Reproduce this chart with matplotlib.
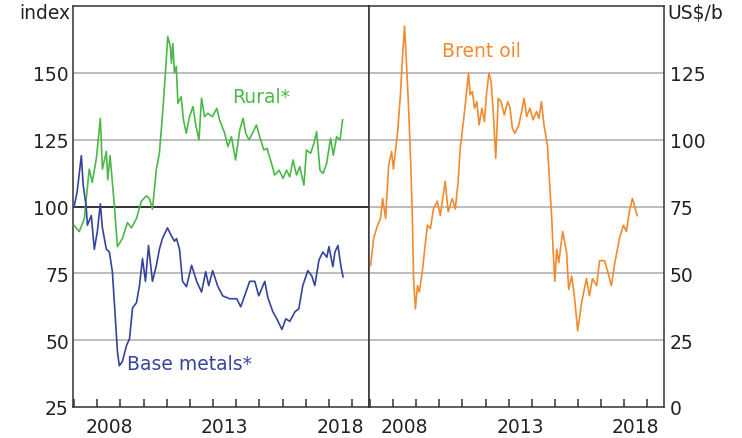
import matplotlib.pyplot as plt

plt.rcParams['font.family'] = ['DejaVu Sans']

# Rural* index (left panel)
rural_t = [2007.00, 2007.22, 2007.44, 2007.65, 2007.78, 2007.96, 2008.13, 2008.22, 2008.39, 2008.45,
           2008.55, 2008.74, 2008.87, 2009.08, 2009.30, 2009.47, 2009.69, 2009.90, 2010.12, 2010.25,
           2010.38, 2010.55, 2010.68, 2010.83, 2010.94, 2011.04, 2011.15, 2011.20, 2011.26, 2011.33,
           2011.41, 2011.48, 2011.62, 2011.72, 2011.84, 2011.98, 2012.13, 2012.24, 2012.39, 2012.50,
           2012.63, 2012.77, 2012.97, 2013.16, 2013.28, 2013.50, 2013.64, 2013.79, 2013.97, 2014.15,
           2014.29, 2014.41, 2014.55, 2014.70, 2014.87, 2015.01, 2015.19, 2015.33, 2015.52, 2015.66,
           2015.85, 2016.02, 2016.17, 2016.31, 2016.45, 2016.60, 2016.74, 2016.92, 2017.03, 2017.21,
           2017.35, 2017.47, 2017.61, 2017.75, 2017.90, 2018.07, 2018.19, 2018.33, 2018.48, 2018.59]
rural_v = [92.9, 90.6, 95.5, 114, 109, 118, 133, 114, 120.6, 110,
           119, 100, 85, 88, 94, 92, 95.5, 102, 104, 103,
           99, 114, 119.9, 136.1, 149.9, 163.6, 159.9, 153.6, 161, 150,
           152.4, 138.6, 141.1, 132.4, 127.4, 133.6, 137.4, 131.1, 124.9, 140.5,
           133.6, 134.9, 133.6, 136.75, 132.4, 127.4, 122.4, 126.1, 117.4, 128.6,
           133, 127.4, 124.9, 127.4, 130.5, 126.1, 121.1, 121.75, 116.1, 111.75,
           113.6, 110.5, 113.6, 111.1, 117.4, 111.75, 114.9, 108, 121.1, 119.9,
           123.6, 128, 113.6, 112.4, 116.1, 125.5, 119.2, 126.1, 124.9, 132.4]

# Base metals* index (left panel)
metals_t = [2007.00, 2007.13, 2007.31, 2007.39, 2007.52, 2007.57, 2007.74, 2007.87, 2008.00, 2008.13,
            2008.22, 2008.39, 2008.52, 2008.65, 2008.78, 2008.87, 2008.95, 2009.08, 2009.26, 2009.39,
            2009.52, 2009.69, 2009.82, 2009.95, 2010.08, 2010.21, 2010.38, 2010.55, 2010.68, 2010.81,
            2011.03, 2011.20, 2011.33, 2011.42, 2011.55, 2011.68, 2011.85, 2012.07, 2012.29, 2012.50,
            2012.68, 2012.81, 2012.98, 2013.19, 2013.41, 2013.71, 2014.02, 2014.19, 2014.36, 2014.58,
            2014.80, 2014.97, 2015.23, 2015.36, 2015.58, 2015.75, 2015.97, 2016.14, 2016.31, 2016.53,
            2016.70, 2016.87, 2017.09, 2017.26, 2017.39, 2017.57, 2017.74, 2017.91, 2018.00, 2018.17,
            2018.26, 2018.39, 2018.52, 2018.61]
metals_v = [100, 105.6, 119, 108, 100, 93, 96.6, 84, 90.6, 101,
            92, 84, 83, 75.6, 58, 45.6, 40.4, 42, 48, 50.5,
            62, 64, 70.4, 80.5, 72, 85.4, 72, 78, 84, 88,
            92, 89, 87, 88, 84, 72, 70, 78, 72, 68,
            75.6, 70.4, 76, 70.4, 66.6, 65.5, 65.5, 62.5, 66.6, 72,
            72, 66.6, 72, 66, 60.6, 58, 54, 58, 57, 60.6,
            61.75, 70.4, 76, 74, 70.4, 80, 83, 81, 85, 77.5,
            83, 85.4, 77.5, 73.7]

# Brent oil, US$/b (right panel)
brent_t = [2007.02, 2007.15, 2007.32, 2007.45, 2007.54, 2007.67, 2007.80, 2007.93, 2008.01, 2008.19,
           2008.31, 2008.40, 2008.49, 2008.57, 2008.66, 2008.75, 2008.83, 2008.88, 2008.96, 2009.05,
           2009.13, 2009.26, 2009.35, 2009.48, 2009.61, 2009.74, 2009.91, 2010.04, 2010.25, 2010.38,
           2010.56, 2010.69, 2010.81, 2010.90, 2011.04, 2011.15, 2011.26, 2011.33, 2011.43, 2011.52,
           2011.62, 2011.72, 2011.84, 2011.95, 2012.05, 2012.15, 2012.24, 2012.34, 2012.44, 2012.55,
           2012.67, 2012.81, 2012.96, 2013.06, 2013.16, 2013.27, 2013.44, 2013.56, 2013.67, 2013.78,
           2013.92, 2014.06, 2014.21, 2014.31, 2014.42, 2014.53, 2014.68, 2014.78, 2014.87, 2014.93,
           2015.00, 2015.08, 2015.17, 2015.34, 2015.51, 2015.60, 2015.73, 2015.86, 2015.99, 2016.16,
           2016.37, 2016.50, 2016.63, 2016.81, 2016.94, 2017.15, 2017.28, 2017.45, 2017.58, 2017.80,
           2017.97, 2018.10, 2018.23, 2018.36, 2018.45, 2018.57]
brent_v = [53, 63, 68, 70.5, 78, 70.5, 90.4, 95.6, 89, 103,
           116.6, 130.5, 142.5, 129, 113, 93, 70.5, 48, 36.75, 45.4,
           43, 50.6, 58, 68, 66.75, 74, 77, 71.6, 84.4, 73,
           78, 74, 84.4, 96.75, 106.75, 115.5, 124.9, 116.75, 118, 111.75,
           114.25, 105.5, 111.75, 106.75, 118, 124.9, 121.75, 109.25, 93, 115.5,
           114.25, 109.25, 114.25, 111.75, 104.25, 102.4, 105.5, 110.5, 115.5, 108.6,
           111.75, 107.4, 110.5, 108, 114.25, 105.5, 98, 83, 70, 58,
           47, 59, 54, 65.6, 58, 44, 49, 40.5, 28.5, 39,
           48, 41.6, 48, 45.4, 54.75, 54.75, 51, 45.4, 53, 63,
           68, 65.6, 73, 78, 75.4, 71.6]

left_ticks = [25, 50, 75, 100, 125, 150]
right_ticks = [0, 25, 50, 75, 100, 125]
year_ticks = list(range(2007, 2020))
year_labels = ['2008', '2013', '2018']

green = '#4cb848'
blue = '#34449c'
orange = '#f28a2e'
grid_c = '#b8b8b8'
txt = '#222222'
fs = 13.5

fig = plt.figure(figsize=(7.42, 4.39), dpi=100)
ax1 = fig.add_axes([73 / 742, 31 / 439, 296 / 742, 401 / 439])
ax2 = fig.add_axes([369 / 742, 31 / 439, 295 / 742, 401 / 439])

for ax in (ax1, ax2):
    ax.set_xlim(2006.95, 2019.73)
    ax.set_xticks(year_ticks, minor=True)
    ax.set_xticks([int(y) + 0.5 for y in year_labels])
    ax.set_xticklabels(year_labels)
    ax.tick_params(axis='x', which='minor', direction='in', length=6, width=1.1, color='#333333')
    ax.tick_params(axis='x', which='major', length=0, pad=7, labelsize=fs, labelcolor=txt)
    for s in ax.spines.values():
        s.set_linewidth(1.1)
        s.set_color('#333333')

# left panel
ax1.set_ylim(25, 175)
ax1.set_yticks(left_ticks)
ax1.tick_params(axis='y', length=0, pad=3, labelsize=fs, labelcolor=txt)
for v in left_ticks[1:]:
    if v == 100:
        ax1.axhline(v, color='#222222', lw=1.3, zorder=1)
    else:
        ax1.axhline(v, color=grid_c, lw=1.3, zorder=1)
ax1.plot(rural_t, rural_v, color=green, lw=1.2, zorder=3)
ax1.plot(metals_t, metals_v, color=blue, lw=1.2, zorder=3)
ax1.text(2013.84, 141.3, 'Rural*', color=green, fontsize=fs, va='center', ha='left')
ax1.text(2009.3, 41.1, 'Base metals*', color=blue, fontsize=fs, va='center', ha='left')
ax1.text(-0.01, 0.985, 'index', transform=ax1.transAxes, ha='right', va='center',
         fontsize=fs, color=txt)

# right panel
ax2.set_ylim(0, 150)
ax2.set_yticks(right_ticks)
ax2.yaxis.tick_right()
ax2.tick_params(axis='y', length=0, pad=4, labelsize=fs, labelcolor=txt)
for v in right_ticks[1:]:
    ax2.axhline(v, color=grid_c, lw=1.3, zorder=1)
ax2.plot(brent_t, brent_v, color=orange, lw=1.2, zorder=3)
ax2.text(2010.12, 133.5, 'Brent oil', color=orange, fontsize=fs, va='center', ha='left')
ax2.text(1.013, 0.985, 'US$/b', transform=ax2.transAxes, ha='left', va='center',
         fontsize=fs, color=txt)

plt.savefig('out.png', dpi=100)
